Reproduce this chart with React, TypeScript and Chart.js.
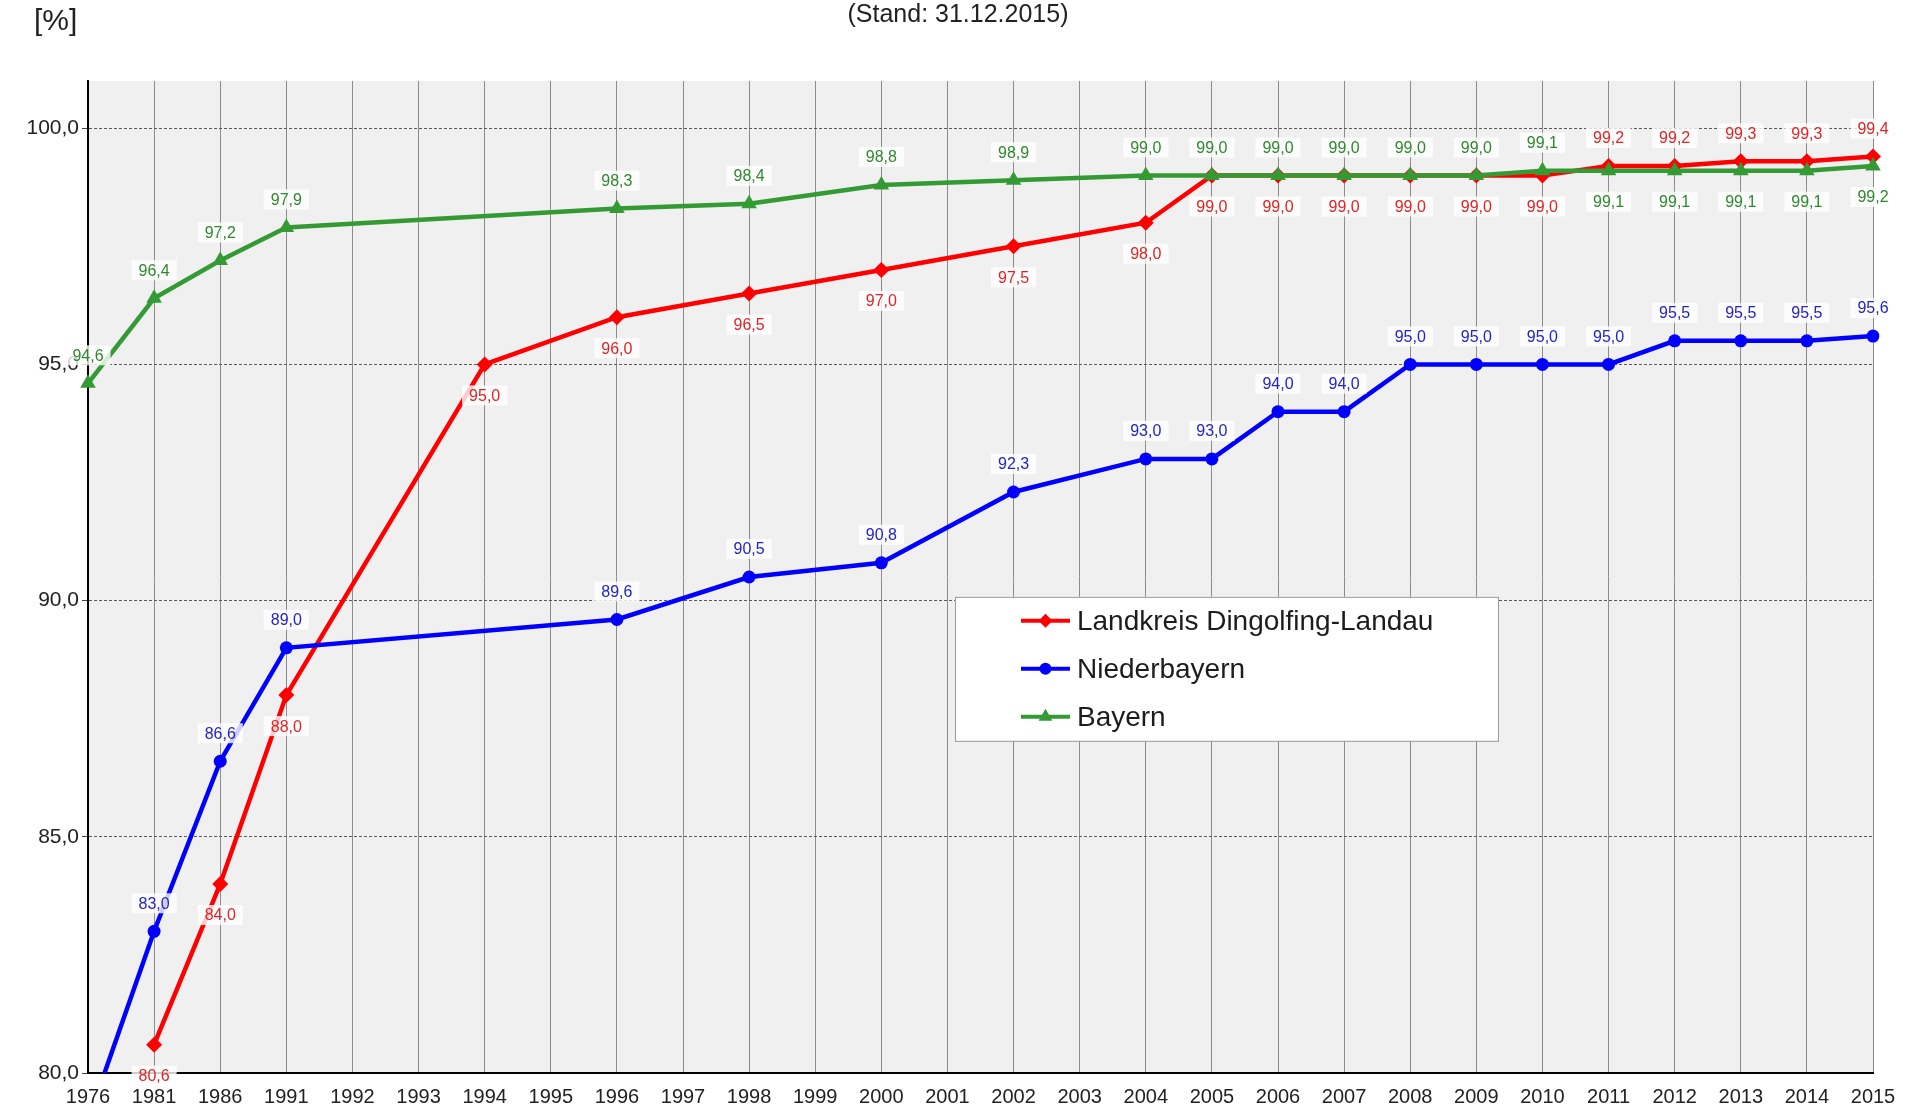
import React, { useEffect, useRef } from 'react';
import { Chart, registerables } from 'chart.js';

Chart.register(...registerables);

const years = [
  '1976', '1981', '1986', '1991', '1992', '1993', '1994', '1995', '1996', '1997',
  '1998', '1999', '2000', '2001', '2002', '2003', '2004', '2005', '2006', '2007',
  '2008', '2009', '2010', '2011', '2012', '2013', '2014', '2015',
];

const landkreis: (number | null)[] = [
  null, 80.6, 84.0, 88.0, null, null, 95.0, null, 96.0, null,
  96.5, null, 97.0, null, 97.5, null, 98.0, 99.0, 99.0, 99.0,
  99.0, 99.0, 99.0, 99.2, 99.2, 99.3, 99.3, 99.4,
];

const niederbayern: (number | null)[] = [
  79.0, 83.0, 86.6, 89.0, null, null, null, null, 89.6, null,
  90.5, null, 90.8, null, 92.3, null, 93.0, 93.0, 94.0, 94.0,
  95.0, 95.0, 95.0, 95.0, 95.5, 95.5, 95.5, 95.6,
];

const bayern: (number | null)[] = [
  94.6, 96.4, 97.2, 97.9, null, null, null, null, 98.3, null,
  98.4, null, 98.8, null, 98.9, null, 99.0, 99.0, 99.0, 99.0,
  99.0, 99.0, 99.1, 99.1, 99.1, 99.1, 99.1, 99.2,
];

const yTicks = [80, 85, 90, 95, 100];

const seriesNames = ['Landkreis Dingolfing-Landau', 'Niederbayern', 'Bayern'];
const subtitle = '(Stand: 31.12.2015)';
const unitLabel = '[%]';

const FONT = '"Liberation Sans", Arial, Helvetica, sans-serif';
const fmt = (v: number) => v.toFixed(1).replace('.', ',');

const RED = '#ff0000';
const BLUE = '#0000ff';
const GREEN = '#349a34';
const RED_TXT = '#e02424';
const BLUE_TXT = '#2323c8';
const GREEN_TXT = '#2f882f';

function drawMarker(ctx: CanvasRenderingContext2D, style: string, x: number, y: number, r: number, color: string) {
  ctx.save();
  ctx.fillStyle = color;
  ctx.beginPath();
  if (style === 'circle') {
    ctx.arc(x, y, r, 0, Math.PI * 2);
  } else if (style === 'rectRot') {
    ctx.moveTo(x, y - r);
    ctx.lineTo(x + r, y);
    ctx.lineTo(x, y + r);
    ctx.lineTo(x - r, y);
    ctx.closePath();
  } else {
    ctx.moveTo(x, y - r);
    ctx.lineTo(x + r * 0.866, y + r * 0.5);
    ctx.lineTo(x - r * 0.866, y + r * 0.5);
    ctx.closePath();
  }
  ctx.fill();
  ctx.restore();
}

export default function App() {
  const ref = useRef<HTMLCanvasElement>(null);

  useEffect(() => {
    if (!ref.current) return;

    const bgPlugin = {
      id: 'bgPlugin',
      beforeDraw(chart: any) {
        const { ctx, chartArea: ca } = chart;
        ctx.save();
        ctx.fillStyle = '#ffffff';
        ctx.fillRect(0, 0, chart.width, chart.height);
        ctx.fillStyle = '#f0f0f0';
        ctx.fillRect(ca.left, ca.top, ca.right - ca.left, ca.bottom - ca.top);
        ctx.restore();
      },
    };

    const labelPlugin = {
      id: 'labelPlugin',
      afterDatasetsDraw(chart: any) {
        const { ctx } = chart;
        const yScale = chart.scales.y;
        ctx.save();
        ctx.font = `16px ${FONT}`;
        ctx.textAlign = 'center';
        ctx.textBaseline = 'middle';
        chart.data.datasets.forEach((ds: any, di: number) => {
          const meta = chart.getDatasetMeta(di);
          ds.data.forEach((v: number | null, i: number) => {
            if (v === null || v < yScale.min) return;
            const pt = meta.data[i];
            if (!pt) return;
            let above = true;
            if (ds.key === 'red') {
              const g = bayern[i];
              above = g !== null && v > g;
            } else if (ds.key === 'green') {
              const r = landkreis[i];
              above = !(r !== null && v < r);
            }
            const x = pt.x;
            const y = above ? pt.y - 28 : pt.y + 31;
            const txt = fmt(v);
            const w = ctx.measureText(txt).width + 14;
            const h = 20;
            ctx.fillStyle = 'rgba(255,255,255,0.8)';
            ctx.fillRect(x - w / 2, y - h / 2, w, h);
            ctx.fillStyle = ds.labelColor;
            ctx.fillText(txt, x, y + 1);
          });
        });
        ctx.restore();
      },
    };

    const legendPlugin = {
      id: 'legendPlugin',
      afterDatasetsDraw(chart: any) {
        const { ctx, chartArea: ca } = chart;
        const left = ca.left + (ca.right - ca.left) * 0.4857;
        const top = ca.top + (ca.bottom - ca.top) * 0.52;
        const w = 543;
        const h = 144;
        ctx.save();
        ctx.fillStyle = '#ffffff';
        ctx.fillRect(left, top, w, h);
        ctx.strokeStyle = '#9a9a9a';
        ctx.lineWidth = 1;
        ctx.strokeRect(left + 0.5, top + 0.5, w, h);
        const entries = [
          { name: seriesNames[0], color: RED, style: 'rectRot', r: 7 },
          { name: seriesNames[1], color: BLUE, style: 'circle', r: 6 },
          { name: seriesNames[2], color: GREEN, style: 'triangle', r: 8 },
        ];
        ctx.font = `28px ${FONT}`;
        ctx.textBaseline = 'middle';
        ctx.textAlign = 'left';
        entries.forEach((e, k) => {
          const cy = top + 24 + k * 48;
          const lx = left + 66;
          ctx.strokeStyle = e.color;
          ctx.lineWidth = 4;
          ctx.beginPath();
          ctx.moveTo(lx, cy);
          ctx.lineTo(lx + 49, cy);
          ctx.stroke();
          drawMarker(ctx, e.style, lx + 24.5, cy, e.r, e.color);
          ctx.fillStyle = '#1c1c1c';
          ctx.fillText(e.name, left + 122, cy + 1);
        });
        ctx.restore();
      },
    };

    const textPlugin = {
      id: 'textPlugin',
      afterDraw(chart: any) {
        const { ctx } = chart;
        ctx.save();
        ctx.fillStyle = '#222';
        ctx.textBaseline = 'middle';
        ctx.textAlign = 'center';
        ctx.font = `25px ${FONT}`;
        ctx.fillText(subtitle, 958, 15);
        ctx.textAlign = 'left';
        ctx.font = `30px ${FONT}`;
        ctx.fillText(unitLabel, 34, 22);
        ctx.restore();
      },
    };

    const chart = new Chart(ref.current, {
      type: 'line',
      data: {
        labels: years,
        datasets: [
          {
            key: 'red',
            label: seriesNames[0],
            data: landkreis,
            borderColor: RED,
            backgroundColor: RED,
            borderWidth: 4.5,
            pointStyle: 'rectRot',
            pointRadius: 8,
            pointBorderWidth: 0,
            spanGaps: true,
            tension: 0,
            order: 2,
            labelColor: RED_TXT,
          } as any,
          {
            key: 'blue',
            label: seriesNames[1],
            data: niederbayern,
            borderColor: BLUE,
            backgroundColor: BLUE,
            borderWidth: 4.5,
            pointStyle: 'circle',
            pointRadius: 6.5,
            pointBorderWidth: 0,
            spanGaps: true,
            tension: 0,
            order: 1,
            labelColor: BLUE_TXT,
          } as any,
          {
            key: 'green',
            label: seriesNames[2],
            data: bayern,
            borderColor: GREEN,
            backgroundColor: GREEN,
            borderWidth: 4.5,
            pointStyle: 'triangle',
            pointRadius: 9,
            pointBorderWidth: 0,
            spanGaps: true,
            tension: 0,
            order: 0,
            labelColor: GREEN_TXT,
          } as any,
        ],
      },
      options: {
        animation: false,
        responsive: false,
        maintainAspectRatio: false,
        devicePixelRatio: 1,
        layout: { padding: { top: 81, right: 37, left: 0, bottom: 0 } },
        plugins: {
          legend: { display: false },
          tooltip: { enabled: false },
          title: { display: false },
        },
        scales: {
          x: {
            type: 'category',
            offset: false,
            grid: { color: '#8c8c8c', lineWidth: 1, drawTicks: false },
            border: { color: '#000000', width: 2 },
            ticks: {
              font: { family: FONT, size: 20 },
              color: '#222',
              padding: 12,
              autoSkip: false,
              maxRotation: 0,
              minRotation: 0,
            },
            afterFit: (s: any) => {
              s.height = 39;
            },
          },
          y: {
            type: 'linear',
            min: 80,
            max: 101,
            afterBuildTicks: (s: any) => {
              s.ticks = yTicks.map((v) => ({ value: v }));
            },
            ticks: {
              callback: (v: any) => fmt(Number(v)),
              font: { family: FONT, size: 21 },
              color: '#222',
              padding: 3,
            },
            grid: {
              color: '#5a5a5a',
              lineWidth: 1,
              tickLength: 6,
              tickColor: '#444',
              tickBorderDash: [],
            },
            border: { color: '#000000', width: 2, dash: [3, 2] },
            afterFit: (s: any) => {
              s.width = 88;
            },
          },
        },
      } as any,
      plugins: [bgPlugin, labelPlugin, legendPlugin, textPlugin],
    });

    return () => chart.destroy();
  }, []);

  return (
    <div style={{ position: 'fixed', left: 0, top: 0, width: 1910, height: 1112, background: '#fff' }}>
      <canvas ref={ref} width={1910} height={1112} style={{ width: 1910, height: 1112, display: 'block' }} />
    </div>
  );
}
